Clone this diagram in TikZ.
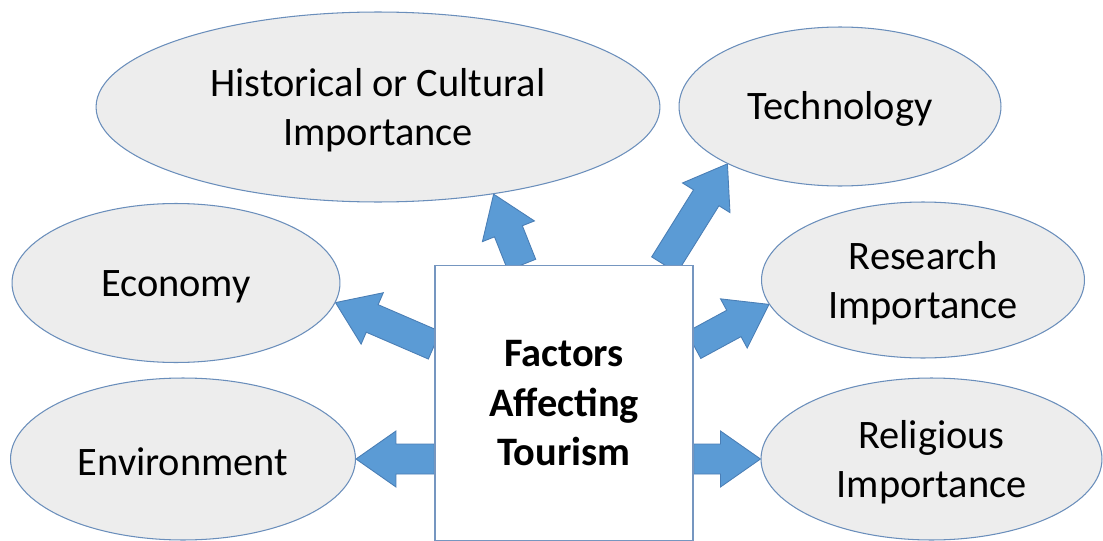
\documentclass[tikz,border=0pt]{standalone}
\usepackage{fontspec}
\setmainfont{Carlito}
\usetikzlibrary{calc,shapes.geometric}
\definecolor{ovalfill}{HTML}{EDEDED}
\definecolor{ovaledge}{HTML}{6A8EBB}
\definecolor{boxedge}{HTML}{7596C0}
\definecolor{arrowblue}{HTML}{5B9BD5}
\definecolor{arrowedge}{HTML}{4A7EB5}
\pgfdeclarelayer{back}
\pgfsetlayers{back,main}
\tikzset{
	oval/.style={ellipse, draw=ovaledge, fill=ovalfill, line width=0.6pt, inner sep=0pt, align=center, font=\fontsize{23}{28}\selectfont},
	oneline/.style={execute at begin node={\rule{0pt}{19pt}}},
	twoline/.style={text depth=0pt},
	factorbox/.style={rectangle, draw=boxedge, fill=white, line width=0.8pt, inner sep=0pt, align=center, font=\fontsize{23}{28}\selectfont\bfseries, text depth=0pt},
	fatarrow/.style={fill=arrowblue, draw=arrowedge, line width=0.5pt, line join=miter}
}
\def\bigarrow(#1)(#2){\begin{pgfonlayer}{back}\filldraw[fatarrow] ($(#1)!0.3cm!90:(#2)$) -- ($(#2)!0.8cm!(#1)!0.3cm!-90:(#1)$) -- ($(#2)!0.8cm!(#1)!0.56cm!-90:(#1)$) -- (#2) -- ($(#2)!0.8cm!(#1)!0.56cm!90:(#1)$) -- ($(#2)!0.8cm!(#1)!0.3cm!90:(#1)$) -- ($(#1)!0.3cm!-90:(#2)$) -- cycle;\end{pgfonlayer}}

\begin{document}
\begin{tikzpicture}[x=0.02cm, y=-0.02cm]
			%%%%% START %%%%%
			\useasboundingbox (0, 0) rectangle (1103, 541);
			
			\node[oval, twoline, minimum width=11.28cm, minimum height=3.8cm] (hist) at (378, 107) {Historical or Cultural\\Importance};
			\node[oval, oneline, minimum width=6.44cm, minimum height=3.18cm] (tech) at (840, 106.5) {Technology};
			\node[oval, oneline, minimum width=6.56cm, minimum height=3.18cm] (econ) at (176, 283) {Economy};
			\node[oval, twoline, minimum width=6.46cm, minimum height=3.12cm] (res) at (923, 280) {Research\\Importance};
			\node[oval, oneline, minimum width=6.9cm, minimum height=3.24cm] (env) at (183, 459) {Environment};
			\node[oval, twoline, minimum width=6.82cm, minimum height=3.24cm] (rel) at (931.5, 459) {Religious\\Importance};
			
			\node[factorbox, minimum width=5.16cm, minimum height=5.5cm] (box) at (564, 403) {Factors\\Affecting\\Tourism};
			
			\coordinate (envtail) at (box.west |- env.east);
			\coordinate (reltail) at (box.east |- rel.west);
			
			\bigarrow(box.107)(hist.323.5)
			\bigarrow(box.54.8)(tech.207.6)
			\bigarrow(box.156.2)(econ.353.3)
			\bigarrow(box.24.6)(res.189.5)
			\bigarrow(envtail)(env.east)
			\bigarrow(reltail)(rel.west)
			
			%%%%% END %%%%%
\end{tikzpicture}
\end{document}
